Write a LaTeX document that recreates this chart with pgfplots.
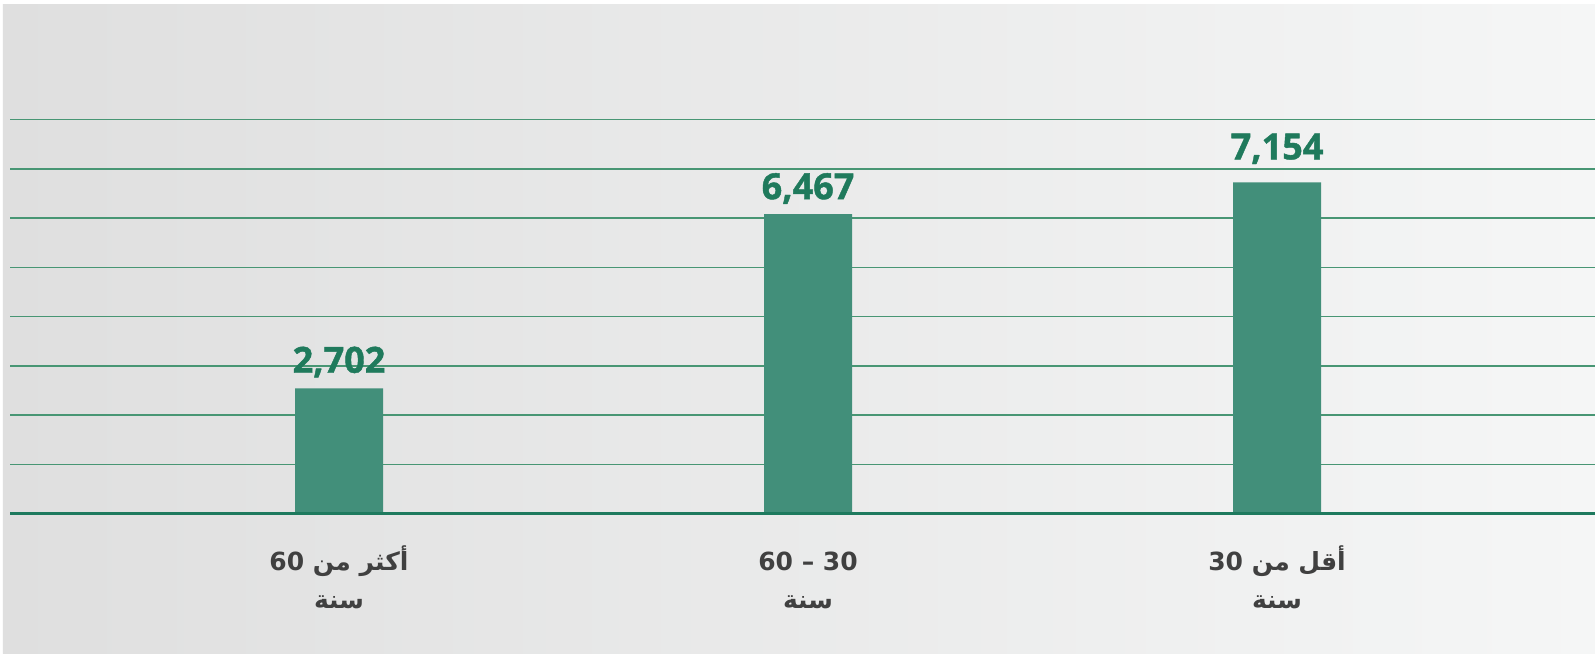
\documentclass[border=0pt]{standalone}
\usepackage{fontspec}
\usepackage{pgfplots}
\pgfplotsset{compat=1.18}
\TeXXeTstate=1
\newfontfamily\arabicfont[Script=Arabic]{DejaVu Sans}
\newfontfamily\valfont[BoldFeatures={FakeBold=1.2}]{Open Sans}
\definecolor{barc}{RGB}{66,143,122}
\definecolor{valc}{RGB}{31,122,92}
\definecolor{basec}{RGB}{30,122,94}
\definecolor{gridc}{RGB}{72,150,116}
\definecolor{labc}{RGB}{64,64,64}
\definecolor{bgL}{RGB}{223,223,223}
\definecolor{bgR}{RGB}{245,246,246}
\newcommand\lstrut{\rule{0pt}{15pt}}
\pgfplotstableread{
x y gap
0 2702 7.85
1 6467 7.5
2 7154 11.5
}\datatab
\begin{document}
\begin{tikzpicture}
\fill[white] (-5pt,-69.75pt) rectangle (792.5pt,256.75pt);
\shade[left color=bgL,right color=bgR] (-3.5pt,-69.75pt) rectangle (792.5pt,254.25pt);
\begin{axis}[
  scale only axis, width=792.5pt, height=197pt,
  xmin=-0.7015, xmax=2.678, ymin=0, ymax=8512,
  clip=false,
  axis line style={draw=none},
  ytick={1064,2128,3192,4256,5320,6384,7448,8512},
  yticklabels={},
  ymajorgrids, grid style={line width=0.75pt, color=gridc},
  major tick length=0,
  xtick={0,1,2},
  xticklabels={
    {\lstrut\beginR أكثر من \beginL 60\endL\endR\\\beginR سنة\endR},
    {\lstrut 60 – 30\\\beginR سنة\endR},
    {\lstrut\beginR أقل من \beginL 30\endL\endR\\\beginR سنة\endR}},
  xticklabel style={align=center, text=labc, yshift=-10pt,
    font=\arabicfont\bfseries\fontsize{12.5}{19}\selectfont},
  ybar, bar width=44pt,
  visualization depends on={\thisrow{gap} \as \gap},
  nodes near coords={\pgfmathprintnumber[assume math mode=true,fixed,precision=0,1000 sep={,}]{\pgfplotspointmeta}},
  nodes near coords style={anchor=base, yshift=\gap pt, text=valc,
    font=\valfont\bfseries\fontsize{18}{21}\selectfont},
]
\addplot[fill=barc, draw=none] table[x=x, y=y] {\datatab};
\draw[basec, line width=1.5pt] (rel axis cs:0,0) -- (rel axis cs:1,0);
\end{axis}
\pgfresetboundingbox
\useasboundingbox (-5pt,-69.75pt) rectangle (792.5pt,256.75pt);
\end{tikzpicture}
\end{document}
